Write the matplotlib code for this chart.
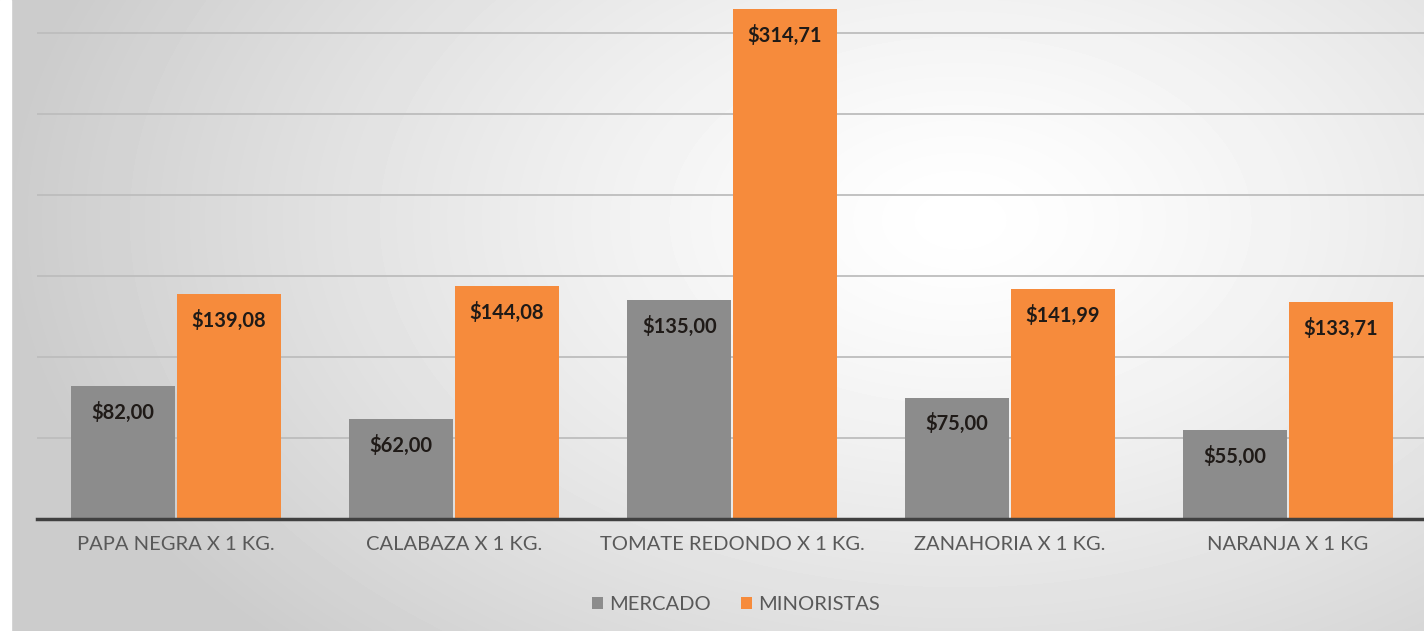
import numpy as np
import matplotlib.pyplot as plt
from matplotlib.patches import Rectangle

categorias = ["PAPA NEGRA X 1 KG.", "CALABAZA X 1 KG.", "TOMATE REDONDO X 1 KG.",
              "ZANAHORIA X 1 KG.", "NARANJA X 1 KG"]
mercado = [82.00, 62.00, 135.00, 75.00, 55.00]
minoristas = [139.08, 144.08, 314.71, 141.99, 133.71]
series = ["MERCADO", "MINORISTAS"]

gris = "#8c8c8c"
naranja = "#f68b3c"


def etiqueta(v):
    return "${:,.2f}".format(v).replace(",", "X").replace(".", ",").replace("X", ".")


plt.rcParams['font.family'] = ['Lato', 'DejaVu Sans']

fig = plt.figure(figsize=(14.24, 6.31), dpi=100)

# fondo con degradado radial
ax_bg = fig.add_axes([0, 0, 1, 1], zorder=-2)
h, w = 631, 1424
yy, xx = np.mgrid[0:h, 0:w]
r = np.sqrt(((xx - 960) / 950.0) ** 2 + ((yy - 220) / 600.0) ** 2)
r = np.clip(r, 0, 1)
val = 1.0 - 0.2 * r ** 1.3
ax_bg.imshow(val, cmap="gray", vmin=0, vmax=1, aspect="auto", extent=[0, w, h, 0])
ax_bg.add_patch(Rectangle((0, 0), 11, h, color="white"))
ax_bg.set_xlim(0, w)
ax_bg.set_ylim(h, 0)
ax_bg.axis("off")

ax = fig.add_axes([37 / 1424, 112 / 631, 1390 / 1424, 519 / 631])
ax.patch.set_alpha(0)

x = np.arange(len(categorias))
ancho = 0.372
b1 = ax.bar(x - ancho / 2 - 0.004, mercado, ancho, color=gris, label=series[0], zorder=3)
b2 = ax.bar(x + ancho / 2 + 0.004, minoristas, ancho, color=naranja, label=series[1], zorder=3)

for barras, vals in [(b1, mercado), (b2, minoristas)]:
    for b, v in zip(barras, vals):
        ax.annotate(etiqueta(v), (b.get_x() + b.get_width() / 2, v),
                    xytext=(0, -19), textcoords="offset points",
                    ha="center", va="center", fontsize=14.5, fontweight="bold",
                    color="#1f1a17", zorder=4)

ax.set_xlim(-0.5, len(categorias) - 0.5)
ax.set_ylim(0, 320.4)
ax.set_yticks(np.arange(50, 301, 50))
ax.yaxis.grid(True, color="#bdbdbd", linewidth=1.3, zorder=0)
ax.tick_params(axis="y", left=False, labelleft=False)
ax.set_xticks(x)
ax.set_xticklabels(categorias, fontsize=14.5, color="#595959")
ax.tick_params(axis="x", length=0, pad=12)
for s in ["top", "right", "left"]:
    ax.spines[s].set_visible(False)
ax.spines["bottom"].set_color("#404040")
ax.spines["bottom"].set_linewidth(2.5)
ax.spines["bottom"].set_zorder(5)

fig.legend(loc="center", bbox_to_anchor=(736 / 1424, 1 - 605 / 631), ncol=2,
           frameon=False, fontsize=14.5, handlelength=0.55, handleheight=0.55,
           handletextpad=0.3, columnspacing=1.5, labelcolor="#595959")

fig.savefig("out.png", dpi=100)
